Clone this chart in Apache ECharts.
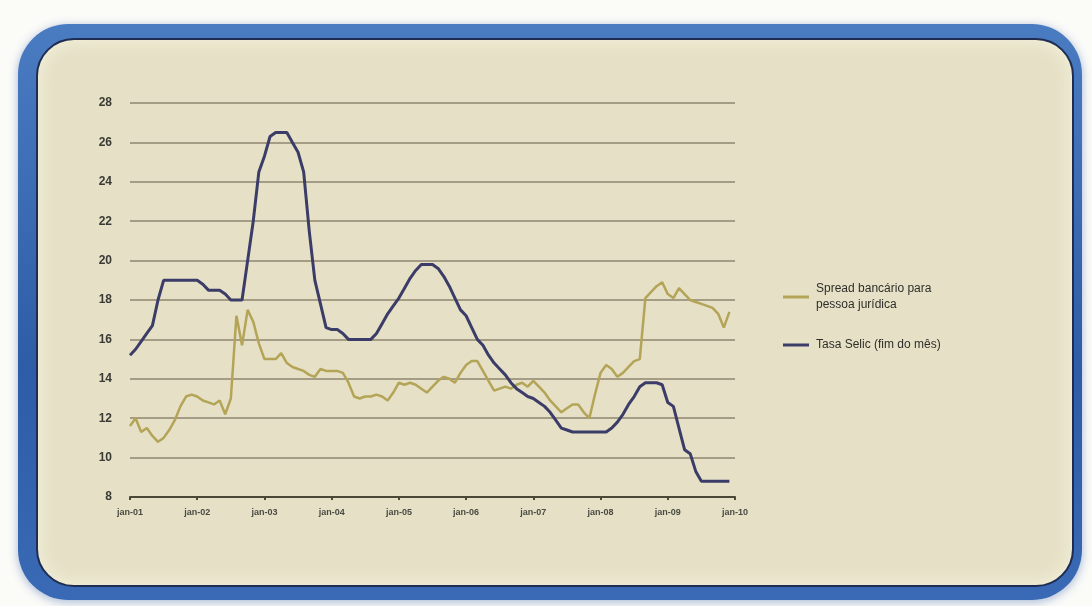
<!DOCTYPE html>
<html>
<head>
<meta charset="utf-8">
<title>Spread bancário x Selic</title>
<script src="https://cdn.jsdelivr.net/npm/echarts@6/dist/echarts.min.js"></script>
<style>
    html, body {
        margin: 0;
        padding: 0;
        background: #fbfbf8;
        width: 1092px;
        height: 606px;
        overflow: hidden;
    }
    .frame {
        position: absolute;
        left: 18px;
        top: 24px;
        width: 1064px;
        height: 576px;
        border-radius: 50px;
        background: linear-gradient(180deg, #4a7cc2 0%, #2e5ca6 60%, #3a6ab5 100%);
        box-shadow: 0 2px 10px rgba(60, 100, 170, 0.45);
    }
    .panel {
        position: absolute;
        left: 36px;
        top: 38px;
        width: 1034px;
        height: 545px;
        border-radius: 38px;
        background: #e6e1c6;
        border: 2px solid #1f2d52;
        box-shadow: inset 0 0 18px rgba(255, 255, 240, 0.6);
    }
    #chart {
        position: absolute;
        left: 0;
        top: 0;
        width: 1092px;
        height: 606px;
    }
</style>
</head>
<body>
<div class="frame"></div>
<div class="panel"></div>
<div id="chart"></div>
<script>
// month labels, jan-01 .. jan-10
const months = ['jan', 'fev', 'mar', 'abr', 'mai', 'jun', 'jul', 'ago', 'set', 'out', 'nov', 'dez'];
const years = ['01', '02', '03', '04', '05', '06', '07', '08', '09'];
const lastLabel = 'jan-10';

const categories = [];
years.forEach(y => months.forEach(m => categories.push(m + '-' + y)));
categories.push(lastLabel);

const yTicks = { min: 8, max: 28, interval: 2 };

const seriesNames = ['Spread bancário para\npessoa jurídica', 'Tasa Selic (fim do mês)'];

// spread bancário para pessoa jurídica (% a.a.), monthly jan-01 .. dez-09
const spread = [
    11.6, 12.0, 11.3, 11.5, 11.1, 10.8, 11.0, 11.4, 11.9, 12.6, 13.1, 13.2,
    13.1, 12.9, 12.8, 12.7, 12.9, 12.2, 13.0, 17.2, 15.7, 17.5, 16.9, 15.8,
    15.0, 15.0, 15.0, 15.3, 14.8, 14.6, 14.5, 14.4, 14.2, 14.1, 14.5, 14.4,
    14.4, 14.4, 14.3, 13.8, 13.1, 13.0, 13.1, 13.1, 13.2, 13.1, 12.9, 13.3,
    13.8, 13.7, 13.8, 13.7, 13.5, 13.3, 13.6, 13.9, 14.1, 14.0, 13.8, 14.3,
    14.7, 14.9, 14.9, 14.4, 13.9, 13.4, 13.5, 13.6, 13.5, 13.7, 13.8, 13.6,
    13.9, 13.6, 13.3, 12.9, 12.6, 12.3, 12.5, 12.7, 12.7, 12.3, 12.0, 13.2,
    14.3, 14.7, 14.5, 14.1, 14.3, 14.6, 14.9, 15.0, 18.1, 18.4, 18.7, 18.9,
    18.3, 18.1, 18.6, 18.3, 18.0, 17.9, 17.8, 17.7, 17.6, 17.3, 16.6, 17.4
];

// taxa Selic fim do mês (% a.a.), monthly jan-01 .. dez-09
const selic = [
    15.2, 15.5, 15.9, 16.3, 16.7, 18.0, 19.0, 19.0, 19.0, 19.0, 19.0, 19.0,
    19.0, 18.8, 18.5, 18.5, 18.5, 18.3, 18.0, 18.0, 18.0, 20.0, 22.0, 24.5,
    25.3, 26.3, 26.5, 26.5, 26.5, 26.0, 25.5, 24.5, 21.5, 19.0, 17.8, 16.6,
    16.5, 16.5, 16.3, 16.0, 16.0, 16.0, 16.0, 16.0, 16.3, 16.8, 17.3, 17.7,
    18.1, 18.6, 19.1, 19.5, 19.8, 19.8, 19.8, 19.6, 19.2, 18.7, 18.1, 17.5,
    17.2, 16.6, 16.0, 15.7, 15.2, 14.8, 14.5, 14.2, 13.8, 13.5, 13.3, 13.1,
    13.0, 12.8, 12.6, 12.3, 11.9, 11.5, 11.4, 11.3, 11.3, 11.3, 11.3, 11.3,
    11.3, 11.3, 11.5, 11.8, 12.2, 12.7, 13.1, 13.6, 13.8, 13.8, 13.8, 13.7,
    12.8, 12.6, 11.5, 10.4, 10.2, 9.3, 8.8, 8.8, 8.8, 8.8, 8.8, 8.8
];

const colors = ['#b3a457', '#3b3c68'];
const font = '"Liberation Sans", Arial, sans-serif';

const chart = echarts.init(document.getElementById('chart'), null, { renderer: 'canvas' });
chart.setOption({
    animation: false,
    backgroundColor: 'transparent',
    color: colors,
    textStyle: { fontFamily: font },
    grid: {
        left: 130,
        right: 357,
        top: 103,
        bottom: 109,
    },
    legend: {
        orient: 'vertical',
        left: 778,
        top: 276,
        itemGap: 24,
        itemWidth: 26,
        itemHeight: 3,
        icon: 'rect',
        data: seriesNames,
        textStyle: {
            color: '#2e2e2a',
            fontSize: 12,
            lineHeight: 16,
            fontFamily: font,
            padding: [0, 0, 0, 2],
        },
    },
    xAxis: {
        type: 'category',
        boundaryGap: false,
        data: categories,
        axisLine: {
            lineStyle: { color: '#4b4838', width: 2 },
        },
        axisTick: {
            interval: 11,
            length: 3,
            lineStyle: { color: '#4b4838', width: 2 },
        },
        axisLabel: {
            interval: 11,
            color: '#4a4a42',
            fontSize: 9,
            fontWeight: 'bold',
            margin: 11,
        },
        splitLine: { show: false },
    },
    yAxis: {
        type: 'value',
        min: yTicks.min,
        max: yTicks.max,
        interval: yTicks.interval,
        axisLine: { show: false },
        axisTick: { show: false },
        axisLabel: {
            color: '#3a3a35',
            fontSize: 12,
            fontWeight: 'bold',
            margin: 18,
        },
        splitLine: {
            lineStyle: { color: '#a59c86', width: 2 },
        },
    },
    series: [
        {
            name: seriesNames[0],
            type: 'line',
            data: spread,
            symbol: 'none',
            lineStyle: { width: 2.5, color: colors[0] },
            z: 3,
        },
        {
            name: seriesNames[1],
            type: 'line',
            data: selic,
            symbol: 'none',
            lineStyle: { width: 3, color: colors[1] },
            z: 4,
        },
    ],
});
</script>
</body>
</html>
